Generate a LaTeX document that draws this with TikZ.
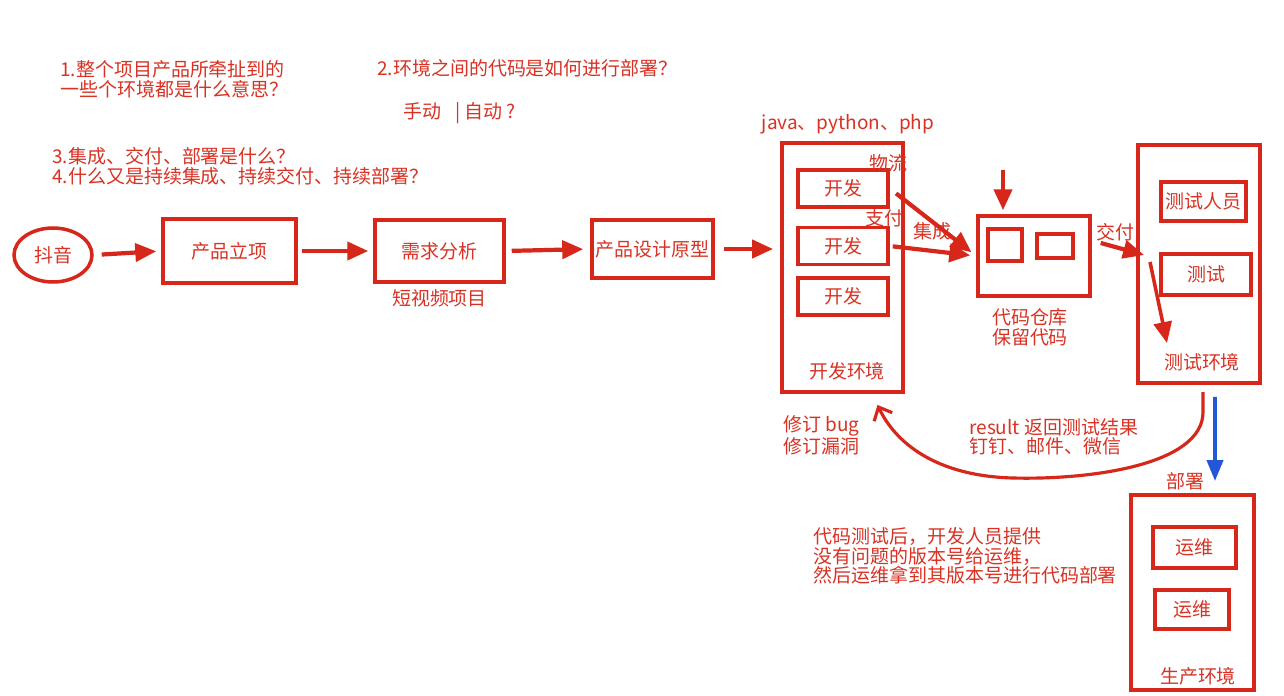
\documentclass[tikz,border=0pt]{standalone}
\usepackage{fontspec}
\setmainfont{Noto Sans CJK SC}
\usetikzlibrary{arrows.meta, positioning, shapes.geometric}
\definecolor{linered}{HTML}{D7261A}
\definecolor{textred}{HTML}{D93224}
\definecolor{deployblue}{HTML}{2457D6}

\begin{document}
\begin{tikzpicture}[
    x=0.02cm, y=-0.02cm,
    every node/.style={font=\fontsize{10.8}{11.2}\selectfont, text=textred},
    box/.style={rectangle, draw=linered, line width=2pt, inner sep=0pt},
    envbox/.style={box, line width=2.2pt},
    devbox/.style={box, minimum width=1.8cm, minimum height=0.74cm},
    note/.style={anchor=north west, align=left, inner sep=0pt},
    flow/.style={draw=linered, line width=2.4pt, -{Triangle[length=0.42cm, width=0.36cm]}},
    backflow/.style={draw=linered, line width=1.8pt, -{Straight Barb[length=0.22cm, width=0.4cm]}},
    deploy/.style={draw=deployblue, line width=2.2pt, -{Triangle[length=0.42cm, width=0.32cm]}},
]
\fill[white] (0,0) rectangle (1284,696);
% questions
\node[note] (q1) at (60,60) {1.整个项目产品所牵扯到的\\一些个环境都是什么意思？};
\node[note] (q2) at (377,59) {2.环境之间的代码是如何进行部署？};
\node[note] (manual) at (403,102) {手动 \enspace| 自动 ?};
\node[note] (q34) at (52,147) {3.集成、交付、部署是什么？\\4.什么又是持续集成、持续交付、持续部署？};
% main line
\node[box, ellipse, minimum width=1.56cm, minimum height=1.08cm] (douyin) at (53,255) {抖音};
\node[box, minimum width=2.66cm, minimum height=1.28cm] (lixiang) at (229.5,251) {产品立项};
\node[box, minimum width=2.58cm, minimum height=1.24cm] (xuqiu) at (439.5,251) {需求分析};
\node[below=0pt of xuqiu] (shortvideo) {短视频项目};
\node[box, minimum width=2.42cm, minimum height=1.16cm] (yuanxing) at (652.5,249) {产品设计原型};
% dev environment
\node[envbox, minimum width=2.42cm, minimum height=4.98cm] (devenv) at (842.5,267.5) {};
\foreach \i/\y in {1/188.5, 2/246, 3/296.5} {
    \node[devbox] (dev\i) at (843,\y) {开发};
}
\node (devlabel) at (847,371) {开发环境};
\node (langs) at (848,124) {java、python、php};
\node (wuliu) at (888,163) {物流};
\node (zhifu) at (884,218) {支付};
\node (jicheng) at (932,231) {集成};
% code repository
\node[box, minimum width=2.24cm, minimum height=1.6cm] (repo) at (1034,256) {};
\node[box, minimum width=0.68cm, minimum height=0.64cm] (slot1) at (1005,245) {};
\node[box, minimum width=0.72cm, minimum height=0.48cm] (slot2) at (1055,246) {};
\node[align=center] (repolabel) at (1030,327) {代码仓库\\保留代码};
\node (jiaofu) at (1115,232) {交付};
% test environment
\node[envbox, minimum width=2.44cm, minimum height=4.76cm] (testenv) at (1199,264) {};
\node[box, minimum width=1.7cm, minimum height=0.78cm] (tester) at (1203.5,201.5) {测试人员};
\node[box, minimum width=1.8cm, minimum height=0.82cm] (testing) at (1206,274.5) {测试};
\node (testlabel) at (1202,362) {测试环境};
% feedback
\node[note] (bugfix) at (783,415) {修订 bug\\修订漏洞};
\node[note] (result) at (969,418) {result 返回测试结果\\钉钉、邮件、微信};
\node (bushu) at (1185,481) {部署};
% production environment
\node[envbox, minimum width=2.46cm, minimum height=3.9cm] (prodenv) at (1192.5,592.5) {};
\node[box, minimum width=1.66cm, minimum height=0.82cm] (ops1) at (1194.5,547.5) {运维};
\node[box, minimum width=1.48cm, minimum height=0.78cm] (ops2) at (1192,609.5) {运维};
\node (prodlabel) at (1198,676) {生产环境};
\node[note] (handover) at (813,527) {代码测试后，开发人员提供\\没有问题的版本号给运维，\\然后运维拿到其版本号进行代码部署};
% arrows
\draw[flow, shorten <=0.16cm, shorten >=0.1cm] (douyin.east) -- (lixiang.west);
\draw[flow, shorten <=0.08cm, shorten >=0.1cm] (lixiang.east) -- (xuqiu.west);
\draw[flow, shorten <=0.12cm, shorten >=0.14cm] (xuqiu.east) -- (yuanxing.west);
\draw[flow, shorten <=0.18cm, shorten >=0.14cm] (yuanxing.east) -- (yuanxing.east -| devenv.west);
\draw[flow, shorten <=0.16cm, shorten >=0.12cm] (dev1.east) -- (repo.west);
\draw[flow, shorten <=0.06cm, shorten >=0.12cm] (dev2.east) -- (repo.west);
\coordinate (feed) at (1003,170);
\draw[flow, shorten >=0.08cm] (feed) -- (feed |- repo.north);
\draw[flow] ([xshift=0.18cm, yshift=0.26cm]repo.east) -- ([xshift=0.16cm, yshift=0.18cm]testenv.west);
\coordinate (tin) at (1150,262);
\coordinate (tout) at (1167,343);
\draw[flow, line width=2pt] (tin) -- (tout);
\coordinate (fbstart) at (1203,392);
\draw[backflow] (fbstart) -- ++(0,20) .. controls (1203,465) and (1090,480) .. (1013,478)
    .. controls (935,476) and (895,442) .. ([xshift=0.7cm, yshift=-0.22cm]devenv.south);
\draw[deploy] ([xshift=0.32cm, yshift=-0.24cm]testenv.south) -- ([xshift=0.45cm, yshift=0.24cm]prodenv.north);
\end{tikzpicture}
\end{document}
